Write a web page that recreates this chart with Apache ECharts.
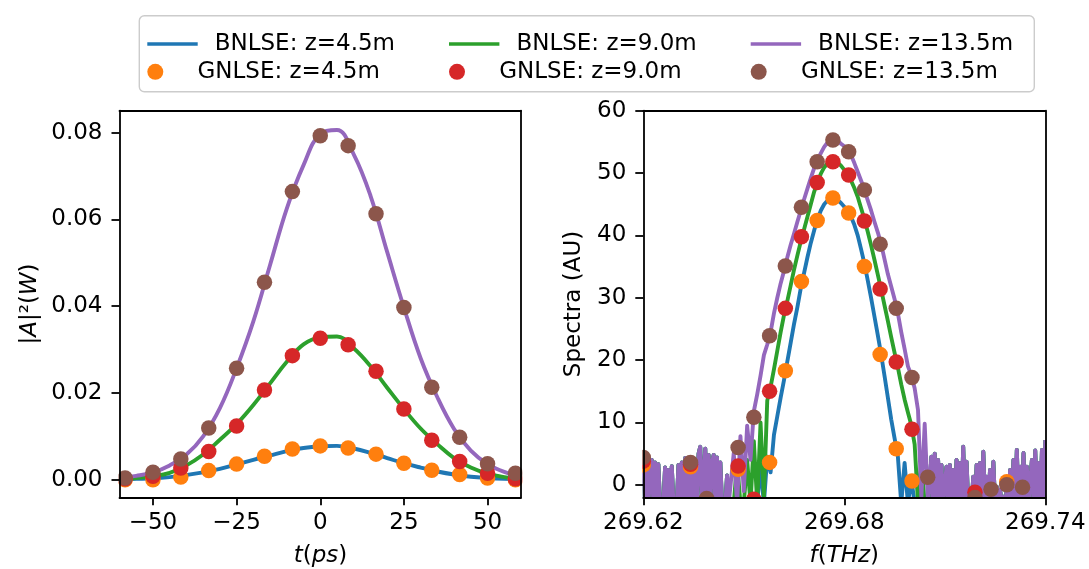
<!DOCTYPE html>
<html><head><meta charset="utf-8">
<script src="https://cdn.jsdelivr.net/npm/echarts@6/dist/echarts.min.js"></script>
<style>html,body{margin:0;padding:0;background:#fff}#c{width:1089px;height:569px}</style>
</head><body><div id="c"></div>
<script>
// ---------- names ----------
const nameB45 = 'BNLSE: z=4.5m', nameB90 = 'BNLSE: z=9.0m', nameB135 = 'BNLSE: z=13.5m';
const nameG45 = 'GNLSE: z=4.5m', nameG90 = 'GNLSE: z=9.0m', nameG135 = 'GNLSE: z=13.5m';

// ---------- left panel: pulse power vs time ----------
const tLine = [-60,-55,-50,-45,-40,-35,-30,-25,-20,-15,-10,-5,0,5,10,15,20,25,30,35,40,45,50,55,60];
const pulseB45  = [0.0001,0.0002,0.0003,0.0006,0.0011,0.0017,0.0025,0.0035,0.0046,0.0056,0.0066,0.0073,0.0077,0.0078,0.0072,0.0062,0.0050,0.0038,0.0028,0.0019,0.0012,0.0007,0.0004,0.0002,0.0001];
const pulseB90  = [0.0001,0.0004,0.0008,0.0016,0.0033,0.0058,0.0092,0.0128,0.0172,0.0222,0.0272,0.0312,0.0328,0.0330,0.0303,0.0262,0.0212,0.0163,0.0118,0.0082,0.0050,0.0028,0.0014,0.0006,0.0002];
const pulseB135 = [0.0004,0.0009,0.0017,0.0033,0.0058,0.0100,0.0165,0.0257,0.0365,0.0495,0.0625,0.0725,0.0797,0.0806,0.0750,0.0655,0.0525,0.0397,0.0280,0.0190,0.0117,0.0067,0.0036,0.0018,0.0008];

const tPts = [-58.33,-50,-41.67,-33.33,-25,-16.67,-8.33,0,8.33,16.67,25,33.33,41.67,50,58.33];
const pulseG45  = [0.0000,0.0000,0.0006,0.0021,0.0036,0.0054,0.0071,0.0078,0.0073,0.0059,0.0038,0.0022,0.0012,0.0004,0.0000];
const pulseG90  = [0.0002,0.0008,0.0027,0.0065,0.0124,0.0207,0.0286,0.0326,0.0311,0.0250,0.0163,0.0091,0.0042,0.0015,0.0002];
const pulseG135 = [0.0004,0.0017,0.0048,0.0119,0.0257,0.0455,0.0664,0.0793,0.0770,0.0613,0.0397,0.0213,0.0098,0.0037,0.0015];

const tTicks = [-50,-25,0,25,50];
const powerTicks = [0,0.02,0.04,0.06,0.08];

// ---------- right panel: spectra vs frequency ----------
// left noisy wing (shared by the three BNLSE curves)
const fWingLeft = [
269.6200,269.6205,269.6210,269.6215,269.6220,269.6225,269.6230,269.6235,269.6240,269.6245,
269.6250,269.6255,269.6260,269.6265,269.6270,269.6275,269.6280,269.6285,269.6290,269.6295,
269.6300,269.6305,269.6310,269.6315,269.6320,269.6325,269.6330,269.6335,269.6340,269.6345,
269.6350,269.6355,269.6360,269.6365,269.6370,269.6375,269.6380,269.6385,269.6390,269.6395,
269.6400,269.6405,269.6410,269.6415,269.6420,269.6425,269.6430,269.6435,269.6440,269.6445,
269.6450,269.6455];
const specWingLeft = [
4.5,-3.0,4.2,-3.0,-3.0,4.0,-3.0,3.6,-3.0,3.3,
-3.0,-3.0,-3.0,2.8,-3.0,2.4,-3.0,3.0,-3.0,-3.0,
-3.0,3.2,-3.0,3.6,-3.0,4.3,-3.0,3.0,-3.0,3.4,
-3.0,3.9,-3.0,5.0,6.1,-3.0,-3.0,5.8,-3.0,4.8,
-3.0,3.5,4.8,-3.0,4.4,-3.0,3.6,-3.0,-3.0,-3.0,
1.5,-3.0];
// central part
const fMid = [
269.646,269.647,269.648,269.649,269.650,269.651,269.652,269.653,269.654,269.655,
269.656,269.657,269.658,269.659,269.660,269.661,269.662,269.663,269.664,269.665,
269.666,269.667,269.668,269.669,269.670,269.671,269.672,269.673,269.674,269.675,
269.676,269.677,269.678,269.679,269.680,269.681,269.682,269.683,269.684,269.685,
269.686,269.687,269.688,269.689,269.690,269.691,269.692,269.693,269.694,269.695,
269.696,269.697,269.698,269.699,269.700,269.701,269.702,269.703,269.704,269.705];
const specB45Mid = [-3.5,-3.5,-3.5,-3.5,-3.5,-3.5,-3.5,-3.5,-3.0,3.0,
  -3.0,4.5,2.0,8.0,11.0,14.0,16.8,19.8,22.8,25.8,
  28.5,31.5,34.0,36.5,38.8,40.8,42.6,44.0,45.0,45.6,
  45.9,46.0,45.7,45.2,44.6,43.9,43.0,41.7,40.0,37.8,
  35.5,32.8,30.0,27.0,24.0,20.9,17.5,14.0,10.5,7.5,
  4.5,-3.0,3.5,-3.0,1.0,-3.0,-3.5,-3.5,-3.5,-3.5];
const specB90Mid = [-3.5,-3.0,3.5,-3.0,-3.0,4.0,-3.0,7.0,-3.0,10.0,
  -2.0,13.5,15.7,18.5,21.5,24.5,27.2,29.5,32.0,34.5,
  36.8,39.0,41.0,43.0,45.0,47.0,48.6,49.9,50.9,51.6,
  51.9,52.0,51.7,51.2,50.5,49.8,48.8,47.6,46.2,44.4,
  42.6,40.6,38.4,36.1,33.7,31.3,28.8,26.3,23.7,21.2,
  18.8,16.1,13.7,11.6,9.6,6.5,-3.0,4.0,-3.0,-3.0];
const specB135Mid = [-3.0,5.1,-3.0,7.8,-1.0,9.5,4.0,11.8,14.5,17.5,
  20.8,22.5,24.5,27.5,30.0,32.3,34.3,36.5,38.5,40.3,
  42.2,44.0,45.8,47.5,49.2,50.8,52.1,53.2,54.2,54.9,
  55.3,55.4,55.2,54.7,54.3,53.8,52.9,51.6,50.2,48.8,
  47.4,45.6,44.0,42.2,40.5,38.6,36.2,33.8,31.8,29.8,
  27.5,24.5,21.8,19.0,17.6,15.5,12.0,-2.0,9.8,-3.0];
// right noisy wing (shared)
const fWingRight = [
269.7060,269.7065,269.7070,269.7075,269.7080,269.7085,269.7090,269.7095,269.7100,269.7105,
269.7110,269.7115,269.7120,269.7125,269.7130,269.7135,269.7140,269.7145,269.7150,269.7155,
269.7160,269.7165,269.7170,269.7175,269.7180,269.7185,269.7190,269.7195,269.7200,269.7205,
269.7210,269.7215,269.7220,269.7225,269.7230,269.7235,269.7240,269.7245,269.7250,269.7255,
269.7260,269.7265,269.7270,269.7275,269.7280,269.7285,269.7290,269.7295,269.7300,269.7305,
269.7310,269.7315,269.7320,269.7325,269.7330,269.7335,269.7340,269.7345,269.7350,269.7355,
269.7360,269.7365,269.7370,269.7375,269.7380,269.7385,269.7390,269.7395,269.7400];
const specWingRight = [
4.5,-3.0,5.0,-3.0,4.0,-3.0,3.2,-3.0,-3.0,2.9,
-3.0,3.2,-3.0,2.4,-3.0,4.0,-3.0,3.5,-3.0,6.1,
-3.0,3.7,-3.0,-3.0,-3.0,1.3,-3.0,3.2,-3.0,3.5,
-3.0,5.3,-3.0,1.3,-3.0,2.4,-3.0,3.7,-3.0,-0.3,
-3.0,-0.8,-3.0,-1.9,-3.0,-0.8,-3.0,2.4,-3.0,4.0,
-3.0,5.6,-3.0,2.9,-3.0,5.1,-3.0,2.9,-3.0,-3.0,
4.0,-3.0,5.5,-3.0,3.5,-3.0,5.6,-3.0,7.2];

const fPts = [269.6200,269.6247,269.6294,269.6341,269.6389,269.6436,269.6483,269.6530,269.6577,269.6624,
  269.6672,269.6719,269.6766,269.6813,269.6860,269.6907,269.6955,269.7002,269.7049,269.7096,
  269.7143,269.7190,269.7238,269.7285,269.7332,269.7379];
const specG45  = [3.2,-3.2,-3.2,2.9,-3.2,-3.2,2.5,-3.2,3.6,18.3,32.6,42.4,46.0,43.6,35.0,20.9,5.8,0.6,-3.2,-3.2,-3.2,-3.2,-3.2,0.5,-3.2,-3.2];
const specG90  = [3.8,-3.2,-3.2,3.3,-3.2,-3.2,3.0,-2.3,15.0,28.3,39.8,48.5,51.8,49.7,42.3,31.4,19.7,8.9,-3.2,-3.2,-3.2,-1.2,-3.2,-3.2,-3.2,-3.2];
const specG135 = [4.4,-3.2,-3.2,3.6,-2.2,-3.2,6.0,10.85,23.9,35.1,44.5,51.8,55.3,53.4,47.3,38.6,28.3,17.2,1.2,-3.2,-3.2,-2.05,-0.7,0.0,-0.4,-3.2];

const fTicks = [269.62,269.68,269.74];
const specTicks = [0,10,20,30,40,50,60];

// ---------- colours ----------
const cBlue='#1f77b4', cOrange='#ff7f0e', cGreen='#2ca02c', cRed='#d62728', cPurple='#9467bd', cBrown='#8c564b';

// ---------- build ----------
const FONT = 'DejaVu Sans';
const LW = 3.9;
const zip = (xs, ys) => xs.map((x, i) => [x, ys[i]]);
const fLine = fWingLeft.concat(fMid, fWingRight);
const specB45 = specWingLeft.concat(specB45Mid, specWingRight);
const specB90 = specWingLeft.concat(specB90Mid, specWingRight);
const specB135 = specWingLeft.concat(specB135Mid, specWingRight);

const G = [
  {left: 119.5, top: 110.7, width: 401.5, height: 386.6, outerBoundsMode: 'none'},
  {left: 643.3, top: 110.7, width: 402, height: 386.6, outerBoundsMode: 'none'}
];
const lineStyleAxis = {color: '#000', width: 1.8};
const labelBase = {fontSize: 23, fontFamily: FONT, color: '#000'};
const minus = v => (v < 0 ? '\u2212' : '') + Math.abs(v);

function mainX(gi, min, max, ticks, fmt) {
  return {gridIndex: gi, type: 'value', min, max, position: 'bottom', z: 10,
    axisLine: {show: true, onZero: false, lineStyle: lineStyleAxis},
    axisTick: {show: true, length: 8, lineStyle: lineStyleAxis, customValues: ticks},
    axisLabel: Object.assign({customValues: ticks, formatter: fmt, margin: 14, showMinLabel: true, showMaxLabel: true, hideOverlap: false}, labelBase),
    splitLine: {show: false}};
}
function frameX(gi, min, max) {
  return {gridIndex: gi, type: 'value', min, max, position: 'top', z: 10,
    axisLine: {show: true, onZero: false, lineStyle: lineStyleAxis},
    axisTick: {show: false}, axisLabel: {show: false}, splitLine: {show: false}};
}
function mainY(gi, min, max, ticks, fmt) {
  return {gridIndex: gi, type: 'value', min, max, position: 'left', z: 10,
    axisLine: {show: true, onZero: false, lineStyle: lineStyleAxis},
    axisTick: {show: true, length: 8, lineStyle: lineStyleAxis, customValues: ticks},
    axisLabel: Object.assign({customValues: ticks, formatter: fmt, margin: 17, showMinLabel: true, showMaxLabel: true}, labelBase),
    splitLine: {show: false}};
}
function frameY(gi, min, max) {
  return {gridIndex: gi, type: 'value', min, max, position: 'right', z: 10,
    axisLine: {show: true, onZero: false, lineStyle: lineStyleAxis},
    axisTick: {show: false}, axisLabel: {show: false}, splitLine: {show: false}};
}

function lineS(name, color, xi, data, smooth) {
  return {type: 'line', name, xAxisIndex: xi, yAxisIndex: xi, data, showSymbol: false, symbol: 'none',
    smooth: smooth, clip: true, lineStyle: {color: color, width: LW, join: 'round'}, itemStyle: {color},
    emphasis: {disabled: true}, animation: false, z: 2};
}
function dotS(name, color, xi, data) {
  return {type: 'scatter', name, xAxisIndex: xi, yAxisIndex: xi, data, symbol: 'circle', symbolSize: 15.5,
    clip: false, itemStyle: {color, opacity: 1}, emphasis: {disabled: true}, animation: false, z: 3};
}

const series = [
  lineS(nameB45, cBlue, 0, zip(tLine, pulseB45), 0.4),
  lineS(nameB90, cGreen, 0, zip(tLine, pulseB90), 0.4),
  lineS(nameB135, cPurple, 0, zip(tLine, pulseB135), 0.4),
  lineS(nameB45, cBlue, 2, zip(fLine, specB45), false),
  lineS(nameB90, cGreen, 2, zip(fLine, specB90), false),
  lineS(nameB135, cPurple, 2, zip(fLine, specB135), false),
  dotS(nameG45, cOrange, 0, zip(tPts, pulseG45)),
  dotS(nameG45, cOrange, 2, zip(fPts, specG45)),
  dotS(nameG90, cRed, 0, zip(tPts, pulseG90)),
  dotS(nameG90, cRed, 2, zip(fPts, specG90)),
  dotS(nameG135, cBrown, 0, zip(tPts, pulseG135)),
  dotS(nameG135, cBrown, 2, zip(fPts, specG135))
];

function legLine(name, left, centerY) {
  return {data: [{name, icon: 'rect'}], left, top: centerY - 1.8, orient: 'horizontal', padding: 0,
    itemWidth: 50.4, itemHeight: 3.6, selectedMode: false, z: 20,
    textStyle: {fontSize: 23, fontFamily: FONT, color: '#000', padding: [0, 0, 0, 12]}};
}
function legDot(name, left, centerY) {
  return {data: [name], left, top: centerY - 8, orient: 'horizontal', padding: 0,
    itemWidth: 50.4, itemHeight: 16, selectedMode: false, z: 20,
    textStyle: {fontSize: 23, fontFamily: FONT, color: '#000', padding: [0, 0, 0, 12]}};
}
const legends = [
  legLine(nameB45, 147.3, 34.3), legDot(nameG45, 147.3, 68.3),
  legLine(nameB90, 449, 34.3), legDot(nameG90, 449, 68.3),
  legLine(nameB135, 750.7, 34.3), legDot(nameG135, 750.7, 68.3)
];

const white = {fill: '#fff'};
const richI = {i: {fontStyle: 'italic', fontSize: 23, fontFamily: FONT, fill: '#000'}};
function label(text, x, y, rot) {
  return {type: 'text', x, y, rotation: rot, z: 20, silent: true,
    style: {text, fontSize: 23, fontFamily: FONT, fill: '#000', align: 'center', verticalAlign: 'middle', rich: richI}};
}
const graphics = [
  {type: 'rect', z: 5, silent: true, shape: {x: 0, y: 100, width: 118.5, height: 420}, style: white},
  {type: 'rect', z: 5, silent: true, shape: {x: 522.3, y: 100, width: 120, height: 420}, style: white},
  {type: 'rect', z: 5, silent: true, shape: {x: 100, y: 498.3, width: 989, height: 22}, style: white},
  {type: 'rect', z: 5, silent: true, shape: {x: 1046.3, y: 100, width: 43, height: 420}, style: white},
  {type: 'rect', z: 15, silent: true, shape: {x: 139.3, y: 15.7, width: 895, height: 76, r: 5},
    style: {fill: 'rgba(255,255,255,0.8)', stroke: '#cccccc', lineWidth: 1.4}},
  label('|{i|A}|\u00b2({i|W})', 30, 304, Math.PI / 2),
  label('Spectra (AU)', 574, 304, Math.PI / 2),
  label('{i|t}({i|ps})', 320.5, 556, 0),
  label('{i|f}({i|THz})', 844.3, 556, 0)
];

const option = {
  backgroundColor: '#fff',
  animation: false,
  grid: G,
  legend: legends,
  xAxis: [
    mainX(0, -60, 60, tTicks, minus), frameX(0, -60, 60),
    mainX(1, 269.62, 269.74, fTicks, v => v.toFixed(2)), frameX(1, 269.62, 269.74)
  ],
  yAxis: [
    mainY(0, -0.00405, 0.08505, powerTicks, v => v.toFixed(2)), frameY(0, -0.00405, 0.08505),
    mainY(1, -2, 60, specTicks, v => String(Math.round(v))), frameY(1, -2, 60)
  ],
  series,
  graphic: {elements: graphics}
};

const chart = echarts.init(document.getElementById('c'), null, {renderer: 'canvas'});
chart.setOption(option);
</script></body></html>
